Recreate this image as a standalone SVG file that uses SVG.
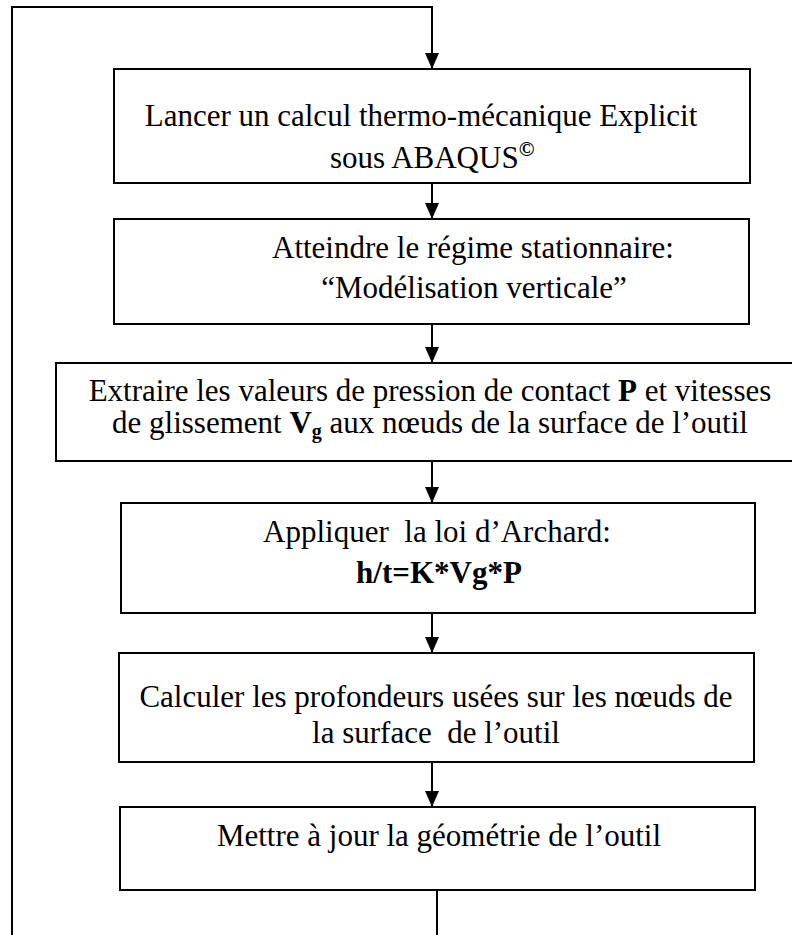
<svg xmlns="http://www.w3.org/2000/svg" width="792" height="935" viewBox="0 0 792 935">
<style>
.box{fill:#fff;stroke:#000;stroke-width:2}
.t{font-family:"Liberation Serif","Times New Roman",serif;font-size:31px;fill:#000}
.m{text-anchor:middle}
.b{font-weight:bold}
.c{fill:none;stroke:#000;stroke-width:2}
</style>
<defs>
<marker id="ah" markerUnits="userSpaceOnUse" markerWidth="16" markerHeight="14" viewBox="0 0 16 14" refX="16" refY="7" orient="auto">
<path d="M0,0 L16,7 L0,14 z" fill="#000"/>
</marker>
</defs>
<rect width="792" height="935" fill="#fff"/>
<g id="connectors">
<path class="c" d="M437,890 V936"/>
<path class="c" d="M12,936 V7 H432 V69" marker-end="url(#ah)"/>
<path class="c" d="M432,183 V219" marker-end="url(#ah)"/>
<path class="c" d="M432,324 V363" marker-end="url(#ah)"/>
<path class="c" d="M432,461 V503" marker-end="url(#ah)"/>
<path class="c" d="M432,613 V653" marker-end="url(#ah)"/>
<path class="c" d="M432,762 V807" marker-end="url(#ah)"/>
</g>
<g id="n1">
<rect class="box" x="114" y="69" width="636" height="114"/>
<text class="t m" x="421" y="126">Lancer un calcul thermo-mécanique Explicit</text>
<text class="t" x="330" y="168">sous ABAQUS<tspan class="b" font-size="21" dy="-12">©</tspan></text>
</g>
<g id="n2">
<rect class="box" x="114" y="219" width="635" height="105"/>
<text class="t m" x="473" y="258">Atteindre le régime stationnaire:</text>
<text class="t m" x="474" y="298">“Modélisation verticale”</text>
</g>
<g id="n3">
<rect class="box" x="56" y="363" width="740" height="98"/>
<text class="t m" x="430" y="401">Extraire les valeurs de pression de contact <tspan class="b">P</tspan> et vitesses</text>
<text class="t m" x="430" y="433">de glissement <tspan class="b">V</tspan><tspan class="b" font-size="20" dy="5">g</tspan><tspan dy="-5"> aux nœuds de la surface de l’outil</tspan></text>
</g>
<g id="n4">
<rect class="box" x="121" y="503" width="634" height="110"/>
<text class="t m" x="437" y="542" xml:space="preserve">Appliquer  la loi d’Archard:</text>
<text class="t m b" x="439" y="583" font-size="32">h/t=K*Vg*P</text>
</g>
<g id="n5">
<rect class="box" x="119" y="653" width="635" height="109"/>
<text class="t m" x="436" y="707">Calculer les profondeurs usées sur les nœuds de</text>
<text class="t m" x="436" y="743" xml:space="preserve">la surface  de l’outil</text>
</g>
<g id="n6">
<rect class="box" x="120" y="807" width="635" height="83"/>
<text class="t m" x="439" y="846">Mettre à jour la géométrie de l’outil</text>
</g>
</svg>
